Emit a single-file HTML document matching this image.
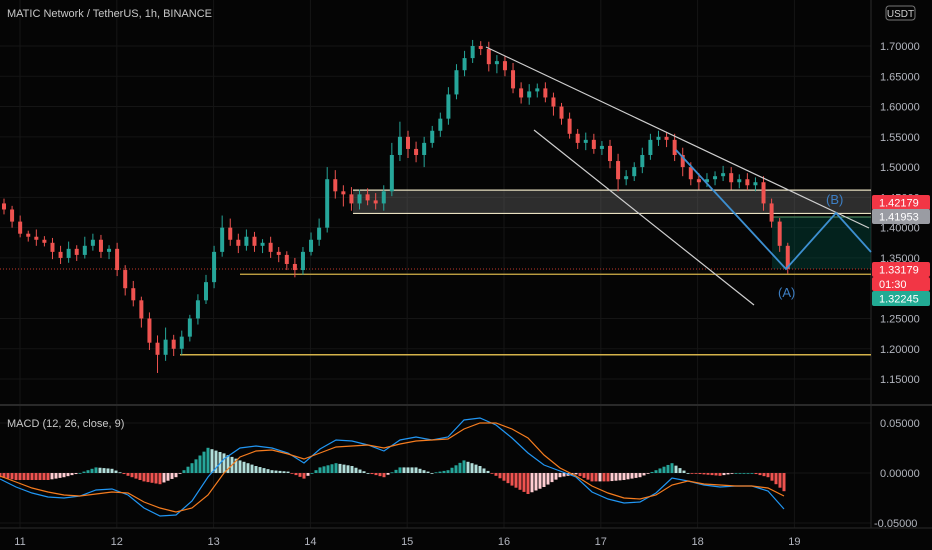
<!DOCTYPE html>
<html><head><meta charset="utf-8"><style>
html,body{margin:0;padding:0;background:#000;}
svg{display:block;font-family:"Liberation Sans",sans-serif;}
</style></head><body>
<svg id="chart" width="932" height="550" viewBox="0 0 932 550" xmlns="http://www.w3.org/2000/svg">
<rect width="932" height="550" fill="#050505"/>
<g id="grid"></g>
<g id="drawBack"></g>
<g id="candles"></g>
<g id="drawFront"></g>
<g id="macd"></g>
<g id="axes"></g>
</svg>
<script>
const closes=[1.43,1.41,1.39,1.385,1.38,1.375,1.36,1.35,1.365,1.355,1.37,1.38,1.36,1.365,1.33,1.30,1.28,1.25,1.21,1.19,1.215,1.20,1.22,1.25,1.28,1.31,1.36,1.40,1.38,1.37,1.385,1.37,1.375,1.36,1.355,1.34,1.33,1.36,1.38,1.40,1.48,1.46,1.455,1.44,1.455,1.445,1.44,1.46,1.52,1.55,1.53,1.52,1.54,1.56,1.58,1.62,1.66,1.68,1.70,1.695,1.67,1.675,1.66,1.63,1.615,1.625,1.63,1.615,1.60,1.58,1.555,1.54,1.545,1.53,1.535,1.51,1.48,1.485,1.50,1.52,1.545,1.55,1.545,1.52,1.50,1.48,1.475,1.48,1.485,1.49,1.475,1.48,1.47,1.475,1.44,1.41,1.37,1.332];
const wickUp=[0.008,0.006,0.01,0.005,0.012,0.006,0.008,0.01,0.012,0.006,0.015,0.01,0.008,0.006,0.01,0.008,0.012,0.006,0.01,0.012,0.02,0.008,0.01,0.006,0.01,0.012,0.01,0.02,0.015,0.01,0.012,0.008,0.006,0.01,0.008,0.006,0.01,0.008,0.012,0.015,0.02,0.015,0.01,0.012,0.008,0.01,0.012,0.01,0.02,0.025,0.01,0.012,0.01,0.008,0.01,0.012,0.01,0.012,0.01,0.008,0.012,0.01,0.008,0.012,0.01,0.012,0.008,0.01,0.008,0.006,0.01,0.008,0.012,0.01,0.008,0.01,0.012,0.01,0.008,0.012,0.01,0.01,0.008,0.01,0.012,0.008,0.01,0.01,0.008,0.012,0.01,0.008,0.01,0.008,0.01,0.008,0.006,0.005];
const wickDn=[0.008,0.01,0.006,0.008,0.01,0.006,0.012,0.01,0.008,0.01,0.006,0.008,0.01,0.012,0.01,0.012,0.01,0.015,0.012,0.03,0.01,0.012,0.01,0.008,0.01,0.006,0.01,0.008,0.01,0.012,0.008,0.01,0.012,0.01,0.012,0.01,0.012,0.008,0.006,0.01,0.008,0.012,0.02,0.012,0.01,0.008,0.01,0.012,0.008,0.01,0.015,0.012,0.02,0.008,0.01,0.01,0.008,0.01,0.008,0.01,0.012,0.015,0.01,0.008,0.01,0.012,0.01,0.008,0.015,0.01,0.008,0.01,0.012,0.008,0.01,0.012,0.02,0.01,0.008,0.01,0.008,0.01,0.012,0.01,0.015,0.01,0.012,0.008,0.01,0.008,0.012,0.01,0.008,0.01,0.012,0.01,0.01,0.008];
const firstOpen=1.44;
const macdLine=[-0.006,-0.014,-0.020,-0.024,-0.025,-0.023,-0.017,-0.016,-0.022,-0.035,-0.043,-0.042,-0.028,-0.004,0.014,0.025,0.027,0.025,0.020,0.010,0.024,0.033,0.032,0.028,0.022,0.033,0.036,0.033,0.036,0.053,0.055,0.048,0.035,0.020,0.008,0.002,-0.004,-0.019,-0.026,-0.030,-0.029,-0.020,-0.005,-0.008,-0.012,-0.014,-0.013,-0.013,-0.018,-0.036];
const signalLine=[-0.003,-0.009,-0.015,-0.019,-0.022,-0.023,-0.021,-0.019,-0.020,-0.029,-0.035,-0.039,-0.035,-0.022,0.000,0.016,0.022,0.023,0.019,0.014,0.020,0.026,0.027,0.028,0.025,0.029,0.032,0.033,0.034,0.044,0.050,0.050,0.044,0.035,0.018,0.005,-0.003,-0.013,-0.020,-0.025,-0.026,-0.022,-0.012,-0.008,-0.011,-0.012,-0.013,-0.013,-0.015,-0.023];
const priceTicks=[1.70,1.65,1.60,1.55,1.50,1.45,1.40,1.35,1.25,1.20,1.15];
const macdTicks=[0.05,0.00,-0.05];
const dayLabels=["11","12","13","14","15","16","17","18","19"];
const levels=[1.19,1.323];
const boxTop=1.462, boxBot=1.4235;

const NS="http://www.w3.org/2000/svg";
function el(tag,attrs,parent,text){const e=document.createElementNS(NS,tag);for(const k in attrs)e.setAttribute(k,attrs[k]);if(text!==undefined)e.textContent=text;parent.appendChild(e);return e;}
const py=p=>46+(1.70-p)*605.5;
const my=v=>473-v*1000;
const bx=i=>4+i*8.08;
const mx=j=>j*16;
const dx=d=>20+d*96.8;
const PR=871;
const G=id=>document.getElementById(id);

const grid=G('grid');
dayLabels.forEach((d,i)=>{const l=el('line',{x1:dx(i),x2:dx(i),y1:0,y2:528,stroke:'#151515'},grid);

});
priceTicks.forEach(p=>{const l=el('line',{x1:0,x2:PR,y1:py(p),y2:py(p),stroke:'#151515'},grid);

});
macdTicks.forEach(v=>{const l=el('line',{x1:0,x2:PR,y1:my(v),y2:my(v),stroke:'#151515'},grid);

});
el('line',{x1:0,x2:932,y1:405,y2:405,stroke:'#2a2a2a','stroke-width':2},grid);
el('line',{x1:PR,x2:PR,y1:0,y2:528,stroke:'#2a2a2a'},grid);
el('line',{x1:0,x2:932,y1:528,y2:528,stroke:'#2a2a2a'},grid);

const db=G('drawBack');
const box=el('rect',{x:353,y:py(boxTop),width:PR-353,height:py(boxBot)-py(boxTop),fill:'rgba(120,120,120,0.35)'},db);


el('line',{x1:353,x2:PR,y1:py(boxTop),y2:py(boxTop),stroke:'#e8e0c0','stroke-width':1.2},db);
el('line',{x1:353,x2:PR,y1:py(boxBot),y2:py(boxBot),stroke:'#e8e0c0','stroke-width':1.2},db);
const tz=el('rect',{x:772,y:217,width:PR-772,height:py(1.33179)-217,fill:'rgba(0,90,75,0.35)'},db);


el('line',{x1:770,x2:PR,y1:217,y2:217,stroke:'#5a9a6a','stroke-width':1},db);
el('line',{x1:0,x2:PR,y1:py(1.33179),y2:py(1.33179),stroke:'#c0392b','stroke-dasharray':'1,2'},db);
const lvA=el('line',{x1:180,x2:PR,y1:py(levels[0]),y2:py(levels[0]),stroke:'#d4b24a','stroke-width':1.5},db);


const lvB=el('line',{x1:240,x2:PR,y1:py(levels[1]),y2:py(levels[1]),stroke:'#d4b24a','stroke-width':1.2},db);



const cg=G('candles');
closes.forEach((c,i)=>{
  const o=i===0?firstOpen:closes[i-1];
  const hi=Math.max(o,c)+wickUp[i], lo=Math.min(o,c)-wickDn[i];
  const col=c>=o?'#26a69a':'#ef5350';
  const x=bx(i);
  const w=el('line',{x1:x,x2:x,y1:py(hi),y2:py(lo),stroke:col,'stroke-width':1},cg);
  
  
  const top=py(Math.max(o,c)), h=Math.max(1,py(Math.min(o,c))-top);
  const b=el('rect',{x:x-2,y:top,width:4,height:h,fill:col},cg);
  
  
});

const df=G('drawFront');
const ch1=el('line',{x1:486,y1:47,x2:869,y2:228,stroke:'#cfcfcf','stroke-width':1.2},df);


const ch2=el('line',{x1:534,y1:130,x2:754,y2:305,stroke:'#cfcfcf','stroke-width':1.2},df);


const zz=el('polyline',{points:'676,150 786,269 836,213 871,252',fill:'none',stroke:'#3d8fd0','stroke-width':1.8},df);


const la=el('text',{x:778,y:297,fill:'#3d7fc4','font-size':13},df,'(A)');


const lb=el('text',{x:826,y:204,fill:'#3d7fc4','font-size':13},df,'(B)');



const mg=G('macd');
const diffAt=t=>{const j=Math.min(macdLine.length-2,Math.floor(t));const f=t-j;
  const a=macdLine[j]-signalLine[j], b=macdLine[j+1]-signalLine[j+1];return a+(b-a)*f;};
let prev=null;
for(let x=0;x<=786;x+=4){
  const d=diffAt(x/16)*1.4;
  let col;
  if(d>=0) col=(prev===null||d>=prev)?'#26a69a':'#b2dfdb'; else col=(prev===null||d<=prev)?'#ef5350':'#ffcdd2';
  prev=d;
  const y0=my(0), y1=my(d);
  const r=el('rect',{x:x-1.5,y:Math.min(y0,y1),width:3,height:Math.max(0.8,Math.abs(y1-y0)),fill:col},mg);
  
  
}
const ml=el('polyline',{points:macdLine.map((v,j)=>mx(j)+','+my(v)).join(' '),fill:'none',stroke:'#2196f3','stroke-width':1.2},mg);


const sl=el('polyline',{points:signalLine.map((v,j)=>mx(j)+','+my(v)).join(' '),fill:'none',stroke:'#f57c1f','stroke-width':1.2},mg);



const ax=G('axes');
const tt=el('text',{x:7,y:17,fill:'#c8c8c8','font-size':11},ax,'MATIC Network / TetherUS, 1h, BINANCE');


const mt=el('text',{x:7,y:427,fill:'#c8c8c8','font-size':11},ax,'MACD (12, 26, close, 9)');


priceTicks.forEach(p=>{const t=el('text',{x:880,y:py(p)+4,fill:'#b2b5be','font-size':11},ax,p.toFixed(5));

});
macdTicks.forEach(v=>{const t=el('text',{x:v<0?874:880,y:my(v)+4,fill:'#b2b5be','font-size':11},ax,v.toFixed(5));

});
dayLabels.forEach((d,i)=>{const t=el('text',{x:dx(i),y:545,fill:'#b2b5be','font-size':11,'text-anchor':'middle'},ax,d);

});
const ub=el('rect',{x:886,y:6,width:29,height:14,rx:3,fill:'#050505',stroke:'#777'},ax);


el('text',{x:900.5,y:17,fill:'#d0d0d0','font-size':10,'text-anchor':'middle'},ax,'USDT');
function tag(y,h,bg,txt,name,fg){const r=el('rect',{x:872,y:y,width:58,height:h,rx:2,fill:bg},ax);


el('text',{x:879,y:y+h/2+4,fill:fg||'#fff','font-size':11},ax,txt);}
tag(195,15,'#f23645','1.42179','price-label-red');
tag(209,15,'#9a9ca3','1.41953','price-label-gray');
tag(262,15,'#f23645','1.33179','current-price-label');
tag(277,14,'#f23645','01:30','countdown-label');
tag(291,15,'#22ab94','1.32245','price-label-teal');
</script>
</body></html>
